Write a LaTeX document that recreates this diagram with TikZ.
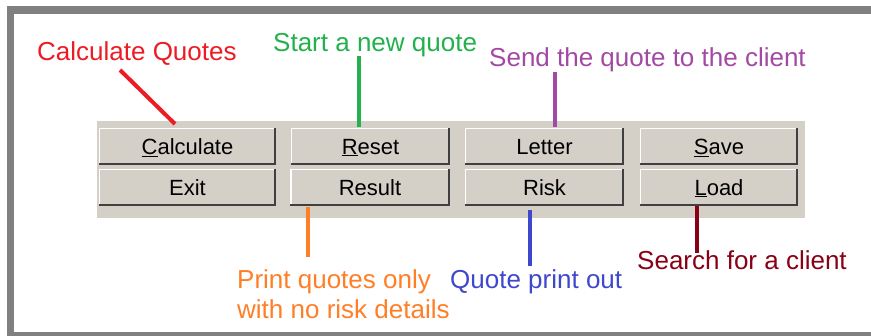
\documentclass[tikz,border=0pt]{standalone}
\usepackage{fontspec}
\setmainfont{Liberation Sans}
\definecolor{framegray}{HTML}{808080}
\definecolor{panel}{HTML}{D4D0C8}
\definecolor{btndark}{HTML}{404040}
\definecolor{qred}{HTML}{ED1C24}
\definecolor{qgreen}{HTML}{22B14C}
\definecolor{qpurple}{HTML}{A349A4}
\definecolor{qorange}{HTML}{FF7F27}
\definecolor{qblue}{HTML}{3F48CC}
\definecolor{qdarkred}{HTML}{880015}
\begin{document}
\begin{tikzpicture}[x=1pt,y=-1pt,
  btn/.style={fill=panel, minimum width=#1, minimum height=37pt, inner sep=0pt,
    font=\fontsize{22}{22}\selectfont, text height=15.5pt, text depth=0pt},
  note/.style={inner sep=0pt, font=\fontsize{26}{30}\selectfont},
  conn/.style={line width=4pt}]
\useasboundingbox (0,0) rectangle (871,336);
% frame
\fill[framegray] (7,6) rectangle (871,336);
\fill[white] (14,14) rectangle (871,332);
% panel
\fill[panel] (97,121) rectangle (805,218);
% buttons
\node[btn=177pt] (calc)   at (187.5,146.5) {\underline{C}alculate};
\node[btn=177pt] (exit)   at (187.5,187.5) {Exit};
\node[btn=159pt] (reset)  at (370.5,146.5) {\underline{R}eset};
\node[btn=159pt] (result) at (370,187.5)   {Result};
\node[btn=159pt] (letter) at (544.5,146.5) {Letter};
\node[btn=159pt] (risk)   at (544.5,187.5) {Risk};
\node[btn=158pt] (save)   at (719,146.5)   {\underline{S}ave};
\node[btn=158pt] (load)   at (719,187.5)   {\underline{L}oad};
\foreach \n in {calc,exit,reset,result,letter,risk,save,load}{
  \draw[white, line width=1.5pt] ([shift={(0.75,0)}]\n.south west) -- ([shift={(0.75,0.75)}]\n.north west) -- ([shift={(0,0.75)}]\n.north east);
  \draw[btndark, line width=2pt] ([shift={(-1,0)}]\n.north east) -- ([shift={(-1,-1)}]\n.south east) -- ([shift={(0,-1)}]\n.south west);
}
% labels
\node[note, text=qred, anchor=base west]    (lcalc)   at (37,61)  {Calculate Quotes};
\node[note, text=qgreen, anchor=base west]  (lreset)  at (273,52) {Start a new quote};
\node[note, text=qpurple, anchor=base west] (lletter) at (489,67) {Send the quote to the client};
\node[note, text=qorange, anchor=north west, align=left] (lresult) at (237,269.5) {Print quotes only\\with no risk details};
\node[note, text=qblue, anchor=base west]   (lrisk)   at (450,289) {Quote print out};
\node[note, text=qdarkred, anchor=base west] (lload)  at (637,270) {Search for a client};
% connectors
\coordinate (c1) at (120,70);  \coordinate (c2) at (175,124);
\coordinate (g1) at (359,56);  \coordinate (g2) at (359,127);
\coordinate (p1) at (555,72);  \coordinate (p2) at (555,127);
\coordinate (o1) at (308,207); \coordinate (o2) at (308,257);
\coordinate (b1) at (530,210); \coordinate (b2) at (530,266);
\coordinate (d1) at (697,206); \coordinate (d2) at (697,253);
\draw[conn, qred]     (c1) -- (c2);
\draw[conn, qgreen]   (g1) -- (g2);
\draw[conn, qpurple]  (p1) -- (p2);
\draw[conn, qorange]  (o1) -- (o2);
\draw[conn, qblue]    (b1) -- (b2);
\draw[conn, qdarkred] (d1) -- (d2);
\end{tikzpicture}
\end{document}
